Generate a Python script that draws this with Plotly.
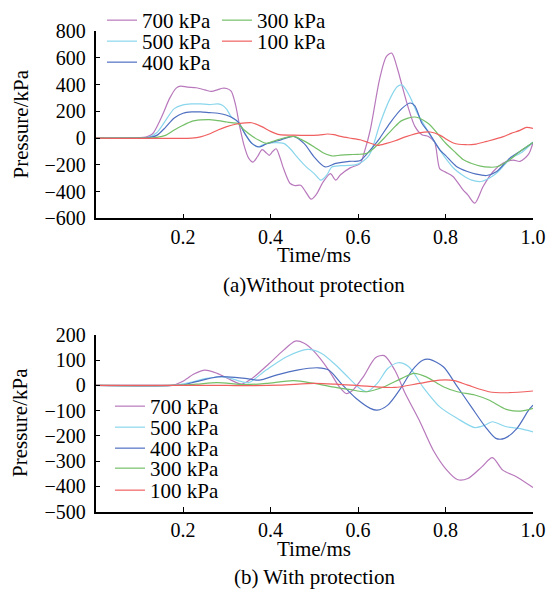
import plotly.graph_objects as go

# ---------------- data: (a) Without protection ----------------
series_names = ["700 kPa", "500 kPa", "400 kPa", "300 kPa", "100 kPa"]

a700_t = [0, 0.10, 0.115, 0.13, 0.15, 0.17, 0.185, 0.195, 0.21, 0.23, 0.25, 0.265, 0.28, 0.29, 0.30, 0.31, 0.32, 0.33, 0.34, 0.35, 0.36, 0.37, 0.381, 0.39, 0.397, 0.405, 0.413, 0.42, 0.43, 0.445, 0.455, 0.469, 0.48, 0.493, 0.505, 0.52, 0.537, 0.549, 0.56, 0.582, 0.605, 0.615, 0.628, 0.65, 0.665, 0.677, 0.69, 0.70, 0.714, 0.73, 0.746, 0.761, 0.775, 0.787, 0.80, 0.817, 0.84, 0.851, 0.867, 0.886, 0.909, 0.932, 0.955, 0.97, 0.99, 1.0]
a700_p = [0, 3, 8, 30, 150, 300, 375, 388, 380, 376, 360, 348, 362, 372, 370, 350, 250, 80, -60, -150, -180, -140, -87, -110, -129, -100, -80, -130, -230, -340, -355, -353, -400, -457, -420, -330, -266, -315, -275, -223, -190, -100, 60, 450, 610, 635, 520, 400, 237, 87, 25, 12, -30, -230, -255, -287, -387, -425, -487, -362, -250, -187, -165, -175, -120, -35]

a500_t = [0, 0.10, 0.12, 0.14, 0.16, 0.18, 0.20, 0.22, 0.24, 0.26, 0.28, 0.29, 0.30, 0.31, 0.326, 0.342, 0.355, 0.37, 0.38, 0.397, 0.43, 0.445, 0.461, 0.48, 0.50, 0.515, 0.53, 0.54, 0.56, 0.58, 0.60, 0.62, 0.63, 0.651, 0.674, 0.69, 0.70, 0.71, 0.72, 0.735, 0.76, 0.787, 0.80, 0.82, 0.84, 0.86, 0.88, 0.90, 0.917, 0.947, 0.977, 1.0]
a500_p = [0, 0, 5, 40, 130, 220, 248, 255, 255, 250, 255, 245, 215, 160, 120, 32, -30, -67, -55, -37, -40, -80, -142, -210, -266, -315, -270, -216, -207, -205, -195, -150, -100, 114, 300, 385, 397, 360, 300, 190, 50, -88, -150, -230, -280, -315, -325, -300, -262, -160, -100, -30]

a400_t = [0, 0.10, 0.12, 0.14, 0.16, 0.18, 0.20, 0.22, 0.24, 0.26, 0.28, 0.30, 0.326, 0.34, 0.358, 0.374, 0.39, 0.42, 0.453, 0.477, 0.50, 0.525, 0.549, 0.58, 0.604, 0.62, 0.635, 0.65, 0.673, 0.70, 0.72, 0.73, 0.746, 0.76, 0.787, 0.80, 0.825, 0.85, 0.87, 0.894, 0.917, 0.947, 0.97, 1.0]
a400_p = [0, 0, 3, 20, 80, 150, 185, 195, 195, 190, 185, 170, 120, 40, -42, -67, -45, -17, 12, -42, -142, -216, -190, -174, -170, -120, -63, 0, 112, 220, 262, 240, 110, 50, -88, -130, -212, -250, -270, -280, -250, -150, -100, -33]

a300_t = [0, 0.12, 0.14, 0.16, 0.18, 0.20, 0.22, 0.24, 0.26, 0.28, 0.30, 0.31, 0.326, 0.34, 0.36, 0.374, 0.39, 0.41, 0.43, 0.453, 0.47, 0.50, 0.52, 0.54, 0.56, 0.58, 0.60, 0.62, 0.635, 0.66, 0.68, 0.70, 0.73, 0.76, 0.78, 0.80, 0.82, 0.84, 0.86, 0.88, 0.90, 0.917, 0.947, 0.97, 1.0]
a300_p = [0, 0, 5, 20, 60, 95, 125, 135, 138, 130, 120, 115, 108, 60, 10, -17, -40, -20, 0, 12, -10, -67, -110, -134, -128, -124, -122, -115, -80, 0, 70, 130, 157, 110, 40, -37, -100, -160, -190, -210, -218, -215, -162, -100, -33]

a100_t = [0, 0.22, 0.24, 0.26, 0.28, 0.30, 0.32, 0.342, 0.357, 0.38, 0.40, 0.421, 0.45, 0.48, 0.51, 0.53, 0.545, 0.56, 0.58, 0.605, 0.625, 0.645, 0.665, 0.685, 0.71, 0.74, 0.765, 0.788, 0.80, 0.818, 0.846, 0.87, 0.894, 0.932, 0.95, 0.97, 0.985, 1.0]
a100_p = [0, 0, 8, 30, 60, 85, 103, 113, 114, 85, 50, 25, 22, 20, 22, 30, 25, 12, 0, -13, -35, -55, -40, -20, 10, 38, 45, 20, -5, -37, -50, -45, -25, 10, 35, 57, 80, 72]

# ---------------- data: (b) With protection ----------------
b700_t = [0, 0.175, 0.198, 0.225, 0.25, 0.278, 0.31, 0.334, 0.358, 0.397, 0.43, 0.457, 0.477, 0.50, 0.533, 0.557, 0.573, 0.588, 0.612, 0.64, 0.66, 0.684, 0.708, 0.74, 0.772, 0.803, 0.827, 0.851, 0.883, 0.907, 0.931, 0.963, 1.0]
b700_p = [0, 0, 15, 45, 61, 48, 21, 5, 28, 87, 140, 176, 167, 134, 61, -5, -32, -19, 34, 110, 118, 61, -32, -138, -257, -336, -373, -369, -323, -286, -336, -363, -405]

b500_t = [0, 0.175, 0.214, 0.254, 0.294, 0.334, 0.35, 0.39, 0.437, 0.485, 0.517, 0.549, 0.58, 0.604, 0.62, 0.644, 0.668, 0.692, 0.716, 0.748, 0.787, 0.827, 0.867, 0.891, 0.907, 0.939, 0.971, 1.0]
b500_p = [0, 0, 11, 28, 34, 15, 11, 61, 114, 143, 127, 81, 28, -12, -25, 8, 67, 90, 74, -5, -85, -131, -167, -157, -144, -164, -171, -184]

b400_t = [0, 0.175, 0.198, 0.23, 0.278, 0.302, 0.342, 0.374, 0.413, 0.461, 0.509, 0.533, 0.565, 0.596, 0.628, 0.644, 0.668, 0.70, 0.724, 0.748, 0.764, 0.795, 0.827, 0.859, 0.891, 0.915, 0.935, 0.963, 0.99, 1.0]
b400_p = [0, 0, 1, 15, 34, 34, 28, 21, 41, 61, 70, 61, 1, -52, -91, -98, -78, -5, 61, 100, 103, 74, -5, -85, -164, -210, -210, -171, -98, -78]

b300_t = [0, 0.175, 0.23, 0.278, 0.342, 0.39, 0.453, 0.50, 0.549, 0.58, 0.62, 0.66, 0.70, 0.728, 0.756, 0.795, 0.827, 0.867, 0.899, 0.939, 0.971, 1.0]
b300_p = [0, 0, 5, 11, 3, 8, 19, 8, -8, -16, -25, -5, 28, 48, 34, -5, -25, -38, -58, -95, -102, -91]

b100_t = [0, 0.30, 0.342, 0.421, 0.50, 0.549, 0.62, 0.684, 0.74, 0.787, 0.82, 0.851, 0.899, 0.939, 1.0]
b100_p = [0, 0, -1, 1, 8, 5, -3, -8, 8, 21, 19, 1, -25, -29, -22]

x_tickvals = [0.2, 0.4, 0.6, 0.8, 1.0]
x_ticktext = ["0.2", "0.4", "0.6", "0.8", "1.0"]
ya_tickvals = [-600, -400, -200, 0, 200, 400, 600, 800]
ya_ticktext = ["\u2212600", "\u2212400", "\u2212200", "0", "200", "400", "600", "800"]
yb_tickvals = [-500, -400, -300, -200, -100, 0, 100, 200]
yb_ticktext = ["\u2212500", "\u2212400", "\u2212300", "\u2212200", "\u2212100", "0", "100", "200"]

colors = ["#b878bc", "#8ad6ec", "#4f6fc0", "#74bf68", "#f06060"]

FONT = "'Liberation Serif', 'Times New Roman', Times, serif"
W, H = 548, 592

def px_x(p):
    return p / W

def px_y(p):
    return (H - p) / H

fig = go.Figure()

top_sets = [(a700_t, a700_p), (a500_t, a500_p), (a400_t, a400_p), (a300_t, a300_p), (a100_t, a100_p)]
bot_sets = [(b700_t, b700_p), (b500_t, b500_p), (b400_t, b400_p), (b300_t, b300_p), (b100_t, b100_p)]

legend_ids_top = ["legend", "legend2", "legend3", "legend4", "legend5"]
legend_ids_bot = ["legend6", "legend7", "legend8", "legend9", "legend10"]

for i, (t, p) in enumerate(top_sets):
    fig.add_trace(go.Scatter(x=t, y=p, mode="lines", name=series_names[i],
                             line=dict(color=colors[i], width=1.2, shape="spline", smoothing=0.8),
                             xaxis="x", yaxis="y", legend=legend_ids_top[i]))
for i, (t, p) in enumerate(bot_sets):
    fig.add_trace(go.Scatter(x=t, y=p, mode="lines", name=series_names[i],
                             line=dict(color=colors[i], width=1.2, shape="spline", smoothing=0.8),
                             xaxis="x2", yaxis="y2", legend=legend_ids_bot[i]))

axis_common = dict(showline=True, linecolor="black", linewidth=1.5, ticks="inside",
                   ticklen=5, tickwidth=1.3, tickcolor="black", showgrid=False,
                   zeroline=False, automargin=False,
                   tickfont=dict(family=FONT, size=20, color="black"))

xdom = [px_x(95.5), px_x(533)]

legend_base = dict(bgcolor="rgba(0,0,0,0)", borderwidth=0,
                   font=dict(family=FONT, size=21, color="black"),
                   xanchor="left", yanchor="top", orientation="v")

# (text-left x px, row-centre y px)
legend_pos = {
    "legend": (142, 20), "legend2": (142, 41), "legend3": (142, 62),
    "legend4": (257, 20), "legend5": (257, 41),
    "legend6": (150, 406), "legend7": (150, 427), "legend8": (150, 448),
    "legend9": (150, 468), "legend10": (150, 490),
}
legend_layout = {}
for k, (tx, cy) in legend_pos.items():
    d = dict(legend_base)
    d["x"] = px_x(tx - 40)
    d["y"] = px_y(cy - 20)
    legend_layout[k] = d

fig.update_layout(
    width=W, height=H,
    margin=dict(l=0, r=0, t=0, b=0, pad=0, autoexpand=False),
    paper_bgcolor="white", plot_bgcolor="white",
    font=dict(family=FONT, size=20, color="black"),
    xaxis=dict(domain=xdom, range=[0, 1], tickvals=x_tickvals, ticktext=x_ticktext,
               anchor="y", **axis_common),
    yaxis=dict(domain=[px_y(218.3), px_y(31)], range=[-600, 800], tickvals=ya_tickvals,
               ticktext=ya_ticktext, anchor="x", ticklabelstandoff=4, **axis_common),
    xaxis2=dict(domain=xdom, range=[0, 1], tickvals=x_tickvals, ticktext=x_ticktext,
                anchor="y2", **axis_common),
    yaxis2=dict(domain=[px_y(511.5), px_y(335)], range=[-500, 200], tickvals=yb_tickvals,
                ticktext=yb_ticktext, anchor="x2", ticklabelstandoff=4, **axis_common),
    showlegend=True,
    **legend_layout,
)

ann_font = dict(family=FONT, size=21, color="black")
annotations = [
    dict(text="Time/ms", x=px_x(314), y=px_y(255), xref="paper", yref="paper",
         showarrow=False, font=ann_font, xanchor="center", yanchor="middle"),
    dict(text="(a)Without protection", x=px_x(314), y=px_y(285), xref="paper", yref="paper",
         showarrow=False, font=ann_font, xanchor="center", yanchor="middle"),
    dict(text="Pressure/kPa", x=px_x(20), y=px_y(124.5), xref="paper", yref="paper",
         showarrow=False, font=ann_font, textangle=-90, xanchor="center", yanchor="middle"),
    dict(text="Time/ms", x=px_x(314), y=px_y(549), xref="paper", yref="paper",
         showarrow=False, font=ann_font, xanchor="center", yanchor="middle"),
    dict(text="(b) With protection", x=px_x(314), y=px_y(577), xref="paper", yref="paper",
         showarrow=False, font=ann_font, xanchor="center", yanchor="middle"),
    dict(text="Pressure/kPa", x=px_x(20), y=px_y(423), xref="paper", yref="paper",
         showarrow=False, font=ann_font, textangle=-90, xanchor="center", yanchor="middle"),
]
fig.update_layout(annotations=annotations)

fig.write_html(
    "out.html",
    config={"displayModeBar": False},
    post_script="document.body.style.margin='0px';document.body.style.padding='0px';"
                "document.body.style.overflow='hidden';",
)
